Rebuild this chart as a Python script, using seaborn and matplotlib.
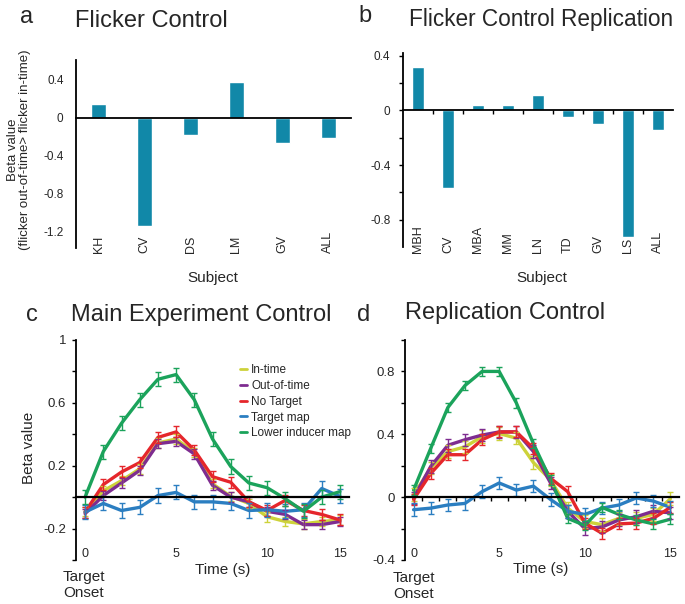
import numpy as np
import pandas as pd
import matplotlib
matplotlib.use("Agg")
import matplotlib.pyplot as plt
import seaborn as sns
from matplotlib.lines import Line2D

# ---- panel a / b data ----
subjects_a = ["KH", "CV", "DS", "LM", "GV", "ALL"]
beta_a = [0.15, -1.14, -0.18, 0.375, -0.26, -0.21]

subjects_b = ["MBH", "CV", "MBA", "MM", "LN", "TD", "GV", "LS", "ALL"]
beta_b = [0.32, -0.565, 0.04, 0.04, 0.11, -0.05, -0.10, -0.93, -0.145]

# ---- panel c data (main experiment) ----
time_c = list(range(15))
in_time_c = [-0.09, 0.04, 0.105, 0.18, 0.345, 0.37, 0.285, 0.085, 0.005, -0.04, -0.125, -0.155, -0.17, -0.155, -0.145]
out_time_c = [-0.105, 0.01, 0.09, 0.17, 0.34, 0.355, 0.275, 0.075, 0.0, -0.03, -0.09, -0.11, -0.175, -0.175, -0.155]
no_target_c = [-0.095, 0.08, 0.16, 0.22, 0.38, 0.415, 0.30, 0.13, 0.095, -0.03, -0.085, -0.02, -0.085, -0.11, -0.145]
target_map_c = [-0.095, -0.04, -0.085, -0.065, 0.01, 0.03, -0.03, -0.03, -0.04, -0.085, -0.08, -0.09, -0.08, 0.055, 0.005]
lower_map_c = [0.0, 0.29, 0.47, 0.62, 0.75, 0.78, 0.62, 0.37, 0.195, 0.09, 0.06, -0.01, -0.09, 0.0, 0.035]
err_c = {
    "In-time": [0.03] * 15,
    "Out-of-time": [0.03] * 15,
    "No Target": [0.035] * 15,
    "Target map": [0.045] * 15,
    "Lower inducer map": [0.045] * 15,
}

# ---- panel d data (replication) ----
time_d = list(range(16))
in_time_d = [0.015, 0.185, 0.29, 0.32, 0.385, 0.405, 0.375, 0.22, 0.11, -0.07, -0.155, -0.175, -0.135, -0.135, -0.11, -0.01]
out_time_d = [-0.005, 0.195, 0.33, 0.365, 0.395, 0.415, 0.415, 0.29, 0.09, -0.09, -0.2, -0.19, -0.145, -0.125, -0.09, -0.10]
no_target_d = [-0.015, 0.15, 0.27, 0.27, 0.365, 0.415, 0.415, 0.31, 0.12, 0.035, -0.165, -0.23, -0.17, -0.165, -0.135, -0.065]
target_map_d = [-0.08, -0.07, -0.05, -0.04, 0.035, 0.09, 0.045, 0.07, -0.015, -0.09, -0.11, -0.07, -0.05, -0.005, -0.025, -0.065]
lower_map_d = [0.045, 0.31, 0.57, 0.71, 0.80, 0.80, 0.60, 0.34, 0.11, -0.135, -0.18, -0.065, -0.11, -0.145, -0.17, -0.14]
err_d = {
    "In-time": [0.04] * 16,
    "Out-of-time": [0.04] * 16,
    "No Target": [0.035] * 16,
    "Target map": [0.04] * 16,
    "Lower inducer map": [0.03] * 16,
}

conditions = ["In-time", "Out-of-time", "No Target", "Target map", "Lower inducer map"]
palette = {
    "In-time": "#cdd23a",
    "Out-of-time": "#7e2c90",
    "No Target": "#e5262b",
    "Target map": "#2b7ec1",
    "Lower inducer map": "#1ba35b",
}
bar_color = "#1188a8"

sns.set_theme(style="white")
plt.rcParams["font.family"] = ["Liberation Sans", "DejaVu Sans"]
plt.rcParams["axes.linewidth"] = 1.3

W, H = 685, 604
fig = plt.figure(figsize=(W / 100, H / 100), dpi=100)


def box(x0, y0, x1, y1):
    # pixel box -> figure fraction [left, bottom, width, height]
    return [x0 / W, 1 - y1 / H, (x1 - x0) / W, (y1 - y0) / H]


def bar_panel(ax, subjects, values, ylim, major, minor, pad, between_ticks):
    df = pd.DataFrame({"subject": subjects, "beta": values})
    sns.barplot(data=df, x="subject", y="beta", color=bar_color, ax=ax,
                width=0.4 if len(subjects) > 6 else 0.33, saturation=1)
    ax.set_xlim(-0.5, len(subjects) - 0.5)
    ax.set_ylim(*ylim)
    ax.set_xlabel("")
    ax.set_ylabel("")
    for s in ["top", "right"]:
        ax.spines[s].set_visible(False)
    ax.spines["bottom"].set_position(("data", 0))
    ax.spines["bottom"].set_color("black")
    ax.spines["left"].set_color("black")
    ax.tick_params(axis="x", which="major", bottom=False, labelbottom=False)
    if between_ticks:
        ax.set_xticks(np.arange(0.5, len(subjects) - 0.5, 1), minor=True)
        ax.tick_params(axis="x", which="minor", bottom=True, length=3,
                       width=1, color="black", direction="out")
    ax.set_yticks(major)
    ax.set_yticklabels([("%g" % v) for v in major])
    ax.set_yticks(minor, minor=True)
    ax.tick_params(axis="y", which="both", left=bool(len(minor)), length=3,
                   width=1, color="black", labelsize=8.5, pad=6)
    sec = ax.secondary_xaxis(0.0)
    sec.set_xticks(range(len(subjects)), labels=subjects, rotation=90,
                   va="bottom", fontsize=9)
    sec.tick_params(length=0, pad=pad)
    for s in sec.spines.values():
        s.set_visible(False)


# ---- panel a ----
ax_a = fig.add_axes(box(76, 60, 351, 248))
bar_panel(ax_a, subjects_a, beta_a, (-1.37, 0.61),
          [-1.2, -0.8, -0.4, 0, 0.4], [], pad=3.6, between_ticks=False)

# ---- panel b ----
ax_b = fig.add_axes(box(403, 53, 673, 247))
bar_panel(ax_b, subjects_b, beta_b, (-1.0, 0.42),
          [-0.8, -0.4, 0, 0.4], [-0.6, -0.2, 0.2], pad=4.6, between_ticks=True)


def line_panel(ax, times, series, errs, xlim, major, minor, xt_pos, half_ticks):
    rows = []
    for name, vals in series.items():
        for t, v in zip(times, vals):
            rows.append({"time": t, "beta": v, "condition": name})
    df = pd.DataFrame(rows)
    sns.lineplot(data=df, x="time", y="beta", hue="condition",
                 hue_order=conditions, palette=palette, linewidth=2.4,
                 legend=False, ax=ax)
    for name, vals in series.items():
        ax.errorbar(times, vals, yerr=errs[name], fmt="none",
                    ecolor=palette[name], elinewidth=1, capsize=2.5,
                    capthick=1)
    ax.set_xlim(*xlim)
    ax.set_ylim(-0.4, 1.0)
    ax.set_xlabel("")
    ax.set_ylabel("")
    for s in ["top", "right"]:
        ax.spines[s].set_visible(False)
    ax.spines["bottom"].set_position(("data", 0))
    ax.spines["bottom"].set_color("black")
    ax.spines["bottom"].set_linewidth(1.6)
    ax.spines["left"].set_color("black")
    ax.tick_params(axis="x", which="major", bottom=False, labelbottom=False)
    if half_ticks:
        ax.set_xticks(np.arange(0.5, times[-1], 1), minor=True)
        ax.tick_params(axis="x", which="minor", bottom=True, length=3,
                       width=1, color="black", direction="out")
    ax.set_yticks(major)
    ax.set_yticklabels([("%g" % v) for v in major])
    ax.set_yticks(minor, minor=True)
    ax.tick_params(axis="y", which="both", left=True, length=3, width=1,
                   color="black", labelsize=9.5, pad=4)
    sec = ax.secondary_xaxis(0.0)
    sec.set_xticks(xt_pos, labels=["0", "5", "10", "15"], va="bottom",
                   fontsize=9)
    sec.tick_params(length=0, pad=0)
    for s in sec.spines.values():
        s.set_visible(False)


# ---- panel c ----
ax_c = fig.add_axes(box(76, 340, 349, 560))
line_panel(ax_c, time_c,
           {"In-time": in_time_c, "Out-of-time": out_time_c,
            "No Target": no_target_c, "Target map": target_map_c,
            "Lower inducer map": lower_map_c},
           err_c, (-0.5, 14.5), [-0.2, 0.2, 0.6, 1.0], [-0.4, 0, 0.4, 0.8],
           [0, 5, 10, 14], half_ticks=False)
handles = [Line2D([], [], color=palette[c], lw=2) for c in conditions]
ax_c.legend(handles, conditions, loc="upper left", bbox_to_anchor=(0.6, 0.89),
            frameon=False, fontsize=8.5, handlelength=0.6, handletextpad=0.35,
            labelspacing=0.32, borderpad=0, borderaxespad=0)

# ---- panel d ----
ax_d = fig.add_axes(box(405, 340, 679, 560))
line_panel(ax_d, time_d,
           {"In-time": in_time_d, "Out-of-time": out_time_d,
            "No Target": no_target_d, "Target map": target_map_d,
            "Lower inducer map": lower_map_d},
           err_d, (-0.5, 15.5), [-0.4, 0, 0.4, 0.8], [-0.2, 0.2, 0.6, 1.0],
           [0, 5, 10, 15], half_ticks=True)


def ftext(x, y, s, **kw):
    fig.text(x / W, 1 - y / H, s, **kw)


# panel letters and titles
ftext(20, 23, "a", fontsize=17, va="baseline")
ftext(75, 27, "Flicker Control", fontsize=17, va="baseline")
ftext(358, 22, "b", fontsize=17, va="baseline")
ftext(409, 26, "Flicker Control Replication", fontsize=16.3, va="baseline")
ftext(26, 321, "c", fontsize=17, va="baseline")
ftext(71, 321, "Main Experiment Control", fontsize=17, va="baseline")
ftext(357, 321, "d", fontsize=17, va="baseline")
ftext(405, 319, "Replication Control", fontsize=17, va="baseline")

# axis labels
ftext(213, 278, "Subject", fontsize=11, ha="center", va="center")
ftext(542, 278, "Subject", fontsize=11, ha="center", va="center")
ftext(19, 150, "Beta value\n(flicker out-of-time> flicker in-time)",
      fontsize=9.5, rotation=90, ha="center", va="center",
      multialignment="center", linespacing=1.1)
ftext(29, 448, "Beta value", fontsize=11, rotation=90, ha="center", va="center")
ftext(223, 570, "Time (s)", fontsize=11, ha="center", va="center")
ftext(541, 569, "Time (s)", fontsize=11, ha="center", va="center")
ftext(63, 585, "Target\nOnset", fontsize=11, ha="left", va="center",
      linespacing=1.25)
ftext(393, 586, "Target\nOnset", fontsize=11, ha="left", va="center",
      linespacing=1.25)

fig.savefig("out.png", dpi=100, facecolor="white")
